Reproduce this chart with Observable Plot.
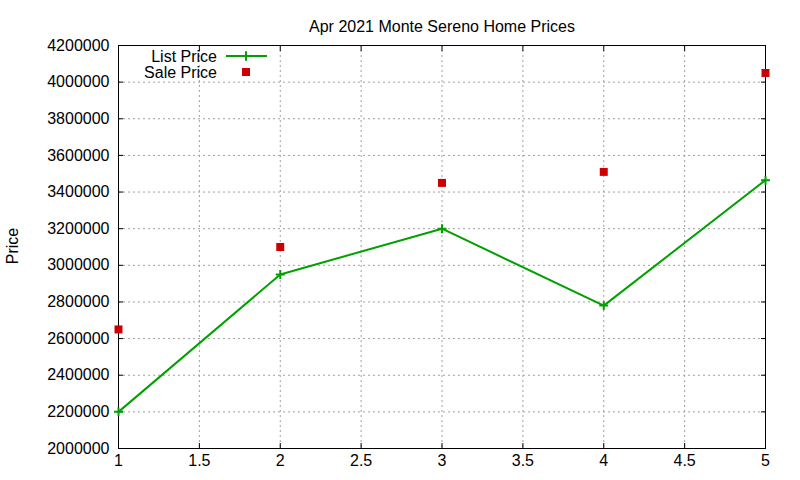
<!DOCTYPE html>
<html><head><meta charset="utf-8">
<script src="https://cdn.jsdelivr.net/npm/d3@7"></script>
<script src="https://cdn.jsdelivr.net/npm/@observablehq/plot@0.6"></script>
<style>
body{margin:0;background:#fff;}
svg{font-family:"Liberation Sans",Arial,sans-serif;}
</style>
</head><body><div id="chart"></div>
<script>
const title = "Apr 2021 Monte Sereno Home Prices";
const yLabel = "Price";
const xValues = [1, 2, 3, 4, 5];
const listPrice = [2200000, 2950000, 3200000, 2780000, 3465000];
const salePrice = [2650000, 3100000, 3450000, 3510000, 4050000];
const xTicks = [1, 1.5, 2, 2.5, 3, 3.5, 4, 4.5, 5];
const yTicks = [2000000, 2200000, 2400000, 2600000, 2800000, 3000000, 3200000, 3400000, 3600000, 3800000, 4000000, 4200000];
const seriesNames = ["List Price", "Sale Price"];

const listData = xValues.map((x, i) => ({x, y: listPrice[i]}));
const saleData = xValues.map((x, i) => ({x, y: salePrice[i]}));
const green = "#00a000", red = "#cc0000";
const fmt = d => String(d);

const chart = Plot.plot({
  width: 800, height: 480,
  marginLeft: 118, marginRight: 35, marginTop: 45, marginBottom: 32,
  style: {fontFamily: "Liberation Sans, Arial, sans-serif", fontSize: "16px", color: "#000", background: "#fff"},
  x: {domain: [1, 5]},
  y: {domain: [2000000, 4200000]},
  marks: [
    Plot.gridX(xTicks, {stroke: "#a0a0a0", strokeOpacity: 1, strokeDasharray: "2,3"}),
    Plot.gridY(yTicks, {stroke: "#a0a0a0", strokeOpacity: 1, strokeDasharray: "2,3"}),
    Plot.axisX(xTicks, {tickSize: 0, tickPadding: 6, tickFormat: fmt, label: null, fontSize: 16}),
    Plot.axisX(xTicks, {tickSize: -5, tickFormat: () => "", label: null}),
    Plot.axisX(xTicks, {anchor: "top", tickSize: -5, tickFormat: () => "", label: null}),
    Plot.axisY(yTicks, {tickSize: 0, tickPadding: 9, tickFormat: fmt, label: null, fontSize: 16}),
    Plot.axisY(yTicks, {tickSize: -5, tickFormat: () => "", label: null}),
    Plot.axisY(yTicks, {anchor: "right", tickSize: -5, tickFormat: () => "", label: null}),
    Plot.frame({stroke: "#000", strokeWidth: 1}),
    Plot.line(listData, {x: "x", y: "y", stroke: green, strokeWidth: 2}),
    Plot.dot(listData, {x: "x", y: "y", symbol: "plus", stroke: green, strokeWidth: 2, r: 3}),
    Plot.dot(saleData, {x: "x", y: "y", symbol: "square", fill: red, stroke: "none", r: 4.5}),
    Plot.text([title], {frameAnchor: "top", dy: -25, text: d => d, fontSize: 16})
  ]
});
document.getElementById("chart").appendChild(chart);

const svg = d3.select(chart);
// Y axis label
svg.append("text").attr("transform", "translate(12,246) rotate(-90)")
  .attr("text-anchor", "middle").attr("dy", "0.35em").attr("font-size", 16).attr("fill", "#000").text(yLabel);

// Legend (gnuplot-style, inside top-left of plot)
const lg = svg.append("g").attr("font-size", 16).attr("font-family", "Liberation Sans, Arial, sans-serif");
const entries = [
  {name: seriesNames[0], type: "line"},
  {name: seriesNames[1], type: "point"}
];
entries.forEach((e, i) => {
  const yy = 56 + i * 16;
  lg.append("text").attr("x", 217).attr("y", yy).attr("dy", "0.35em").attr("text-anchor", "end").attr("fill", "#000").text(e.name);
  if (e.type === "line") {
    lg.append("line").attr("x1", 226).attr("x2", 267).attr("y1", yy).attr("y2", yy).attr("stroke", green).attr("stroke-width", 2);
    lg.append("path").attr("d", d3.symbol(d3.symbolPlus, 30)()).attr("transform", `translate(246,${yy})`).attr("stroke", green).attr("stroke-width", 2).attr("fill", "none");
  } else {
    lg.append("rect").attr("x", 242).attr("y", yy - 4).attr("width", 8).attr("height", 8).attr("fill", red);
  }
});
</script></body></html>
